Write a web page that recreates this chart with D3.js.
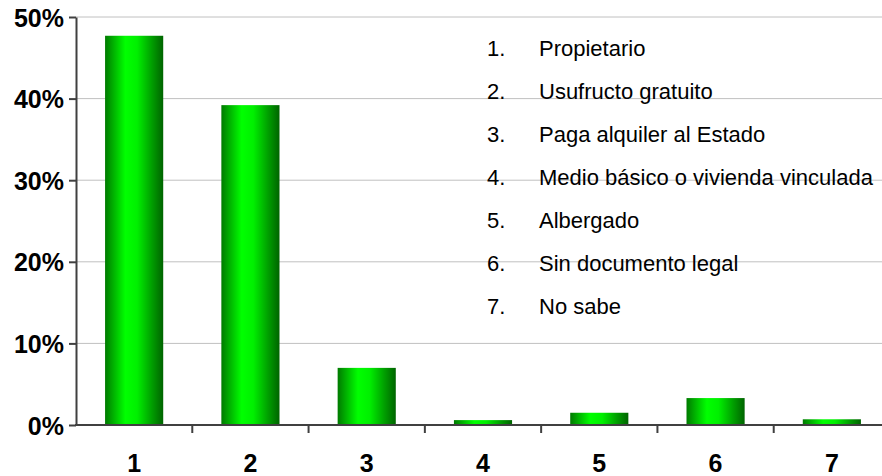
<!DOCTYPE html>
<html><head><meta charset="utf-8">
<script src="https://cdn.jsdelivr.net/npm/d3@7"></script>
<style>body{margin:0;background:#fff}svg{display:block}</style>
</head><body>
<svg id="chart" width="882" height="476"></svg>
<script>
const categories = ["1","2","3","4","5","6","7"];
const values = [47.7, 39.2, 7.0, 0.6, 1.5, 3.3, 0.7];
const legendLabels = ["Propietario","Usufructo gratuito","Paga alquiler al Estado","Medio básico o vivienda vinculada","Albergado","Sin documento legal","No sabe"];
const yTicks = [0,10,20,30,40,50];

(function(){
const svg = d3.select("#chart");
const font = "'Liberation Sans', Arial, sans-serif";
const mLeft = 76, mRight = 890, mTop = 17, mBottom = 425;

const x = d3.scaleBand().domain(categories).range([mLeft, mRight]).paddingInner(0.5).paddingOuter(0.25);
const y = d3.scaleLinear().domain([0,50]).range([mBottom, mTop]);

const defs = svg.append("defs");
const g = defs.append("linearGradient").attr("id","grad").attr("x1","0%").attr("x2","100%").attr("y1","0%").attr("y2","0%");
[["0%","#007a00"],["12%","#00a800"],["35%","#00ff00"],["55%","#00f000"],["80%","#00a000"],["100%","#006400"]]
  .forEach(([o,c])=>g.append("stop").attr("offset",o).attr("stop-color",c));

// gridlines
svg.append("g").selectAll("line").data(yTicks.filter(d=>d>0)).join("line")
  .attr("x1",mLeft).attr("x2",882).attr("y1",d=>y(d)).attr("y2",d=>y(d))
  .attr("stroke","#c0c0c0").attr("stroke-width",1);

// bars
svg.append("g").selectAll("rect").data(values).join("rect")
  .attr("x",(d,i)=>x(categories[i])).attr("width",x.bandwidth())
  .attr("y",d=>y(d)).attr("height",d=>y(0)-y(d))
  .attr("fill","url(#grad)");

// y axis
const yAxis = svg.append("g").attr("transform",`translate(${mLeft},0)`)
  .call(d3.axisLeft(y).tickValues(yTicks).tickFormat(d=>d+"%").tickSize(7).tickSizeOuter(0));
yAxis.select(".domain").attr("stroke","#404040").attr("stroke-width",2);
yAxis.selectAll(".tick line").attr("stroke","#404040").attr("stroke-width",2);
yAxis.selectAll(".tick text").attr("font-family",font).attr("font-size",25).attr("font-weight","bold").attr("fill","#000").attr("x",-12).attr("dy","0.36em");

// x axis
const xTickPos = categories.map((c,i)=>mLeft + (mRight-mLeft)/categories.length*(i+1));
const xAxis = svg.append("g").attr("transform",`translate(0,${mBottom})`);
xAxis.append("line").attr("x1",mLeft-1).attr("x2",882).attr("stroke","#404040").attr("stroke-width",2);
xAxis.selectAll("line.t").data(xTickPos).join("line").attr("class","t")
  .attr("x1",d=>d).attr("x2",d=>d).attr("y1",0).attr("y2",8).attr("stroke","#404040").attr("stroke-width",2);
xAxis.selectAll("text").data(categories).join("text")
  .attr("x",d=>x(d)+x.bandwidth()/2).attr("y",47)
  .attr("text-anchor","middle").attr("font-family",font).attr("font-size",25).attr("font-weight","bold").text(d=>d);

// legend
const leg = svg.append("g");
legendLabels.forEach((t,i)=>{
  const yy = 56 + i*43;
  leg.append("text").attr("x",487).attr("y",yy).attr("font-family",font).attr("font-size",22).text(categories[i]+".");
  leg.append("text").attr("x",539).attr("y",yy).attr("font-family",font).attr("font-size",22).text(t);
});
})();
</script>
</body></html>
